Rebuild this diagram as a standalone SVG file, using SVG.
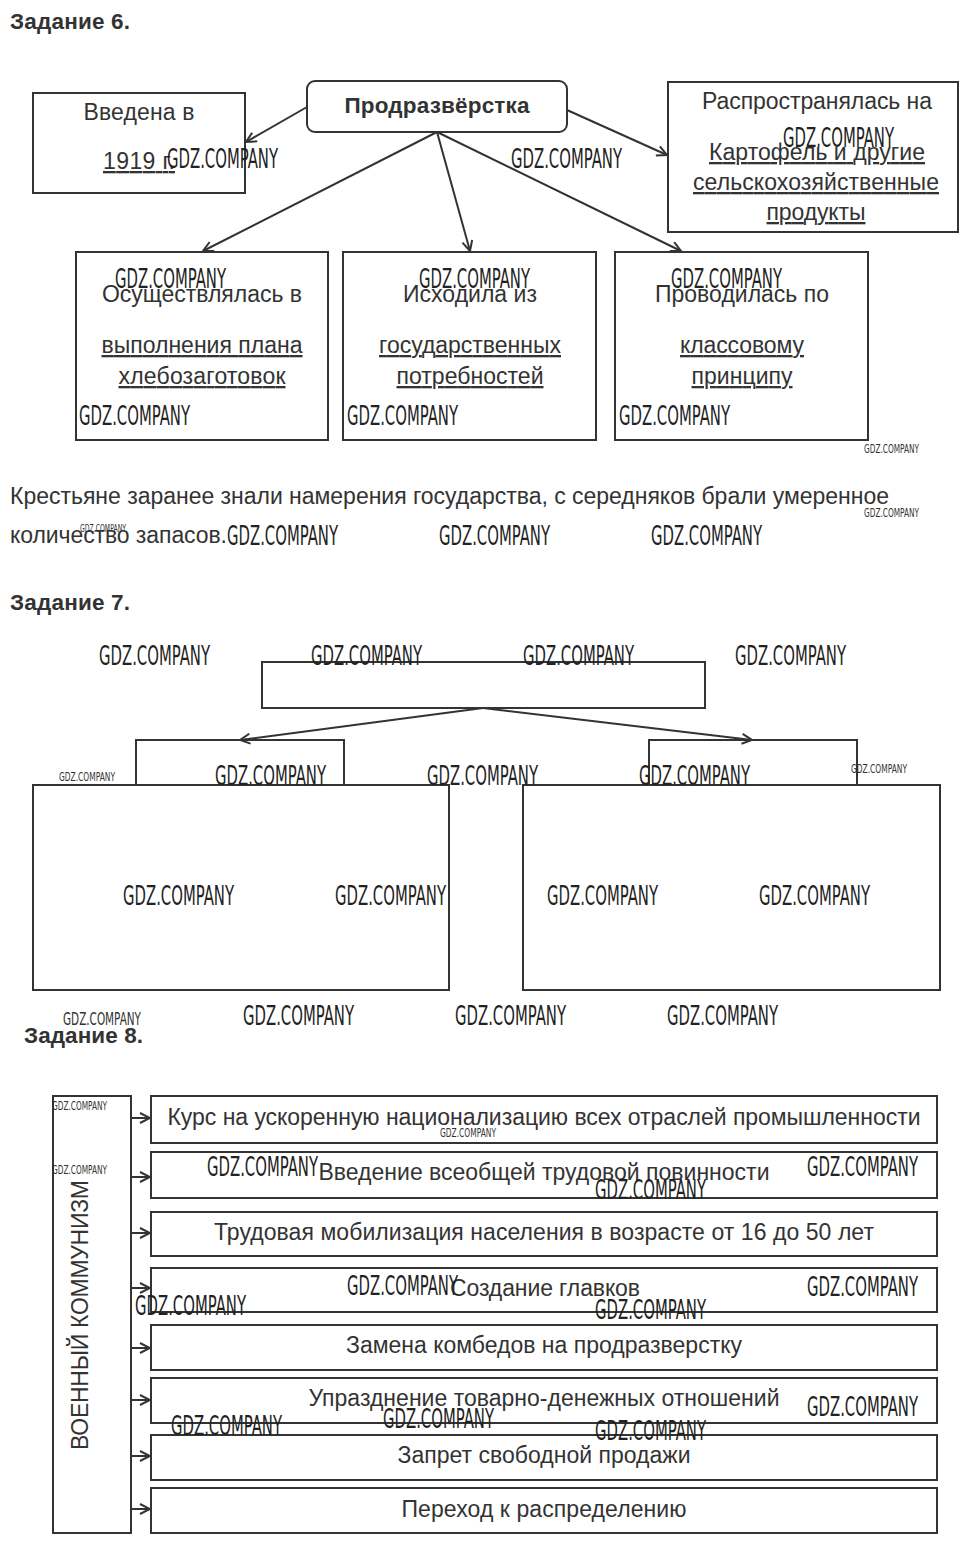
<svg xmlns="http://www.w3.org/2000/svg" width="969" height="1550" viewBox="0 0 969 1550">
<style>
.bg{fill:#fff}
.box{fill:none;stroke:#333;stroke-width:2}
.ln{fill:none;stroke:#333;stroke-width:2}
.t{font-family:"Liberation Sans",Arial,sans-serif;font-size:23px;fill:#333}
.t8{font-family:"Liberation Sans",Arial,sans-serif;font-size:23px;fill:#333;text-anchor:middle}
.c{text-anchor:middle}
.h{font-family:"Liberation Sans",Arial,sans-serif;font-size:22.5px;font-weight:bold;fill:#333}
.u{text-decoration:underline}
.wm{font-family:"Liberation Sans Narrow","DejaVu Sans Condensed","Liberation Sans",sans-serif;font-size:27px;fill:#222;font-stretch:condensed}
.ws{font-family:"Liberation Sans Narrow","DejaVu Sans Condensed","Liberation Sans",sans-serif;font-size:13px;fill:#333}
</style>
<defs>
<marker id="ar" viewBox="0 0 12 12" refX="11" refY="6" markerWidth="12" markerHeight="12" markerUnits="userSpaceOnUse" orient="auto">
<path d="M1,1 L11,6 L1,11" fill="none" stroke="#333" stroke-width="2"/>
</marker>
</defs>
<rect class="bg" x="0" y="0" width="969" height="1550"/>

<g id="task6">
<text class="h" x="10" y="29" textLength="120">Задание 6.</text>
<g id="n6-center"><rect class="box" x="307" y="81" width="260" height="51" rx="8"/><text class="h c" x="437" y="113" textLength="185">Продразвёрстка</text></g>
<g id="n6-left"><rect class="box" x="33" y="93" width="212" height="100"/><text class="t c" x="139" y="120" textLength="111">Введена в</text><text class="t c u" x="139" y="169" textLength="72">1919 г.</text></g>
<g id="n6-right"><rect class="box" x="668" y="82" width="290" height="150"/><text class="t c" x="817" y="109" textLength="230">Распространялась на</text><text class="t c u" x="817" y="160" textLength="216">Картофель и другие</text><text class="t c u" x="816" y="190" textLength="246">сельскохозяйственные</text><text class="t c u" x="816" y="220" textLength="99">продукты</text></g>
<g id="n6-b1"><rect class="box" x="76" y="252" width="252" height="188"/><text class="t c" x="202" y="302" textLength="200">Осуществлялась в</text><text class="t c u" x="202" y="353" textLength="201">выполнения плана</text><text class="t c u" x="202" y="384" textLength="167">хлебозаготовок</text></g>
<g id="n6-b2"><rect class="box" x="343" y="252" width="253" height="188"/><text class="t c" x="470" y="302" textLength="134">Исходила из</text><text class="t c u" x="470" y="353" textLength="182">государственных</text><text class="t c u" x="470" y="384" textLength="147">потребностей</text></g>
<g id="n6-b3"><rect class="box" x="615" y="252" width="253" height="188"/><text class="t c" x="742" y="302" textLength="174">Проводилась по</text><text class="t c u" x="742" y="353" textLength="124">классовому</text><text class="t c u" x="742" y="384" textLength="101">принципу</text></g>
<text class="t" x="10" y="504" textLength="879">Крестьяне заранее знали намерения государства, с середняков брали умеренное</text>
<text class="t" x="10" y="543" textLength="217">количество запасов.</text>
</g>

<g id="task7">
<text class="h" x="10" y="610" textLength="120">Задание 7.</text>
<g id="n7-top"><rect class="box" x="262" y="662" width="443" height="46"/></g>
<g id="n7-l"><path class="box" d="M136,785 V740 H344 V785"/><rect class="box" x="33" y="785" width="416" height="205"/></g>
<g id="n7-r"><path class="box" d="M649,785 V740 H857 V785"/><rect class="box" x="523" y="785" width="417" height="205"/></g>
</g>

<g id="task8">
<text class="h" x="24" y="1043" textLength="119">Задание 8.</text>
<g id="n8-main"><rect class="box" x="53" y="1096" width="78" height="437"/><text class="t8" transform="translate(88,1315) rotate(-90)" textLength="270">ВОЕННЫЙ КОММУНИЗМ</text></g>
<g id="n8-1"><rect class="box" x="151" y="1096" width="786" height="47"/><text class="t8" x="544" y="1125" textLength="753">Курс на ускоренную национализацию всех отраслей промышленности</text></g>
<g id="n8-2"><rect class="box" x="151" y="1152" width="786" height="46"/><text class="t8" x="544" y="1180" textLength="451">Введение всеобщей трудовой повинности</text></g>
<g id="n8-3"><rect class="box" x="151" y="1212" width="786" height="44"/><text class="t8" x="544" y="1240" textLength="660">Трудовая мобилизация населения в возрасте от 16 до 50 лет</text></g>
<g id="n8-4"><rect class="box" x="151" y="1268" width="786" height="44"/><text class="t8" x="545" y="1296" textLength="190">Создание главков</text></g>
<g id="n8-5"><rect class="box" x="151" y="1325" width="786" height="45"/><text class="t8" x="544" y="1353" textLength="396">Замена комбедов на продразверстку</text></g>
<g id="n8-6"><rect class="box" x="151" y="1378" width="786" height="45"/><text class="t8" x="544" y="1406" textLength="471">Упразднение товарно-денежных отношений</text></g>
<g id="n8-7"><rect class="box" x="151" y="1435" width="786" height="45"/><text class="t8" x="544" y="1463" textLength="293">Запрет свободной продажи</text></g>
<g id="n8-8"><rect class="box" x="151" y="1488" width="786" height="45"/><text class="t8" x="544" y="1517" textLength="285">Переход к распределению</text></g>
</g>

<g id="connectors">
<line class="ln" x1="307" y1="107" x2="246" y2="142" marker-end="url(#ar)"/>
<line class="ln" x1="567" y1="110" x2="667" y2="155" marker-end="url(#ar)"/>
<line class="ln" x1="437" y1="132" x2="203" y2="251" marker-end="url(#ar)"/>
<line class="ln" x1="437" y1="132" x2="470" y2="251" marker-end="url(#ar)"/>
<line class="ln" x1="437" y1="132" x2="681" y2="251" marker-end="url(#ar)"/>
<line class="ln" x1="483" y1="708" x2="240" y2="740" marker-end="url(#ar)"/>
<line class="ln" x1="483" y1="708" x2="752" y2="740" marker-end="url(#ar)"/>
<line class="ln" x1="131" y1="1118" x2="150" y2="1118" marker-end="url(#ar)"/>
<line class="ln" x1="131" y1="1177" x2="150" y2="1177" marker-end="url(#ar)"/>
<line class="ln" x1="131" y1="1233" x2="150" y2="1233" marker-end="url(#ar)"/>
<line class="ln" x1="131" y1="1288" x2="150" y2="1288" marker-end="url(#ar)"/>
<line class="ln" x1="131" y1="1348" x2="150" y2="1348" marker-end="url(#ar)"/>
<line class="ln" x1="131" y1="1400" x2="150" y2="1400" marker-end="url(#ar)"/>
<line class="ln" x1="131" y1="1456" x2="150" y2="1456" marker-end="url(#ar)"/>
<line class="ln" x1="131" y1="1509" x2="150" y2="1509" marker-end="url(#ar)"/>
</g>

<g id="watermarks">
<text class="wm" x="167" y="168" textLength="111" lengthAdjust="spacingAndGlyphs">GDZ.COMPANY</text>
<text class="wm" x="511" y="168" textLength="111" lengthAdjust="spacingAndGlyphs">GDZ.COMPANY</text>
<text class="wm" x="783" y="147" textLength="111" lengthAdjust="spacingAndGlyphs">GDZ.COMPANY</text>
<text class="wm" x="115" y="288" textLength="111" lengthAdjust="spacingAndGlyphs">GDZ.COMPANY</text>
<text class="wm" x="419" y="288" textLength="111" lengthAdjust="spacingAndGlyphs">GDZ.COMPANY</text>
<text class="wm" x="671" y="288" textLength="111" lengthAdjust="spacingAndGlyphs">GDZ.COMPANY</text>
<text class="wm" x="79" y="425" textLength="111" lengthAdjust="spacingAndGlyphs">GDZ.COMPANY</text>
<text class="wm" x="347" y="425" textLength="111" lengthAdjust="spacingAndGlyphs">GDZ.COMPANY</text>
<text class="wm" x="619" y="425" textLength="111" lengthAdjust="spacingAndGlyphs">GDZ.COMPANY</text>
<text class="ws" x="864" y="453" textLength="55" lengthAdjust="spacingAndGlyphs">GDZ.COMPANY</text>
<text class="ws" x="864" y="517" textLength="55" lengthAdjust="spacingAndGlyphs">GDZ.COMPANY</text>
<text class="ws" x="80" y="532" textLength="46" lengthAdjust="spacingAndGlyphs" style="font-size:11px">GDZ.COMPANY</text>
<text class="wm" x="227" y="545" textLength="111" lengthAdjust="spacingAndGlyphs">GDZ.COMPANY</text>
<text class="wm" x="439" y="545" textLength="111" lengthAdjust="spacingAndGlyphs">GDZ.COMPANY</text>
<text class="wm" x="651" y="545" textLength="111" lengthAdjust="spacingAndGlyphs">GDZ.COMPANY</text>
<text class="wm" x="99" y="665" textLength="111" lengthAdjust="spacingAndGlyphs">GDZ.COMPANY</text>
<text class="wm" x="311" y="665" textLength="111" lengthAdjust="spacingAndGlyphs">GDZ.COMPANY</text>
<text class="wm" x="523" y="665" textLength="111" lengthAdjust="spacingAndGlyphs">GDZ.COMPANY</text>
<text class="wm" x="735" y="665" textLength="111" lengthAdjust="spacingAndGlyphs">GDZ.COMPANY</text>
<text class="ws" x="59" y="781" textLength="56" lengthAdjust="spacingAndGlyphs">GDZ.COMPANY</text>
<text class="wm" x="215" y="785" textLength="111" lengthAdjust="spacingAndGlyphs">GDZ.COMPANY</text>
<text class="wm" x="427" y="785" textLength="111" lengthAdjust="spacingAndGlyphs">GDZ.COMPANY</text>
<text class="wm" x="639" y="785" textLength="111" lengthAdjust="spacingAndGlyphs">GDZ.COMPANY</text>
<text class="ws" x="851" y="773" textLength="56" lengthAdjust="spacingAndGlyphs">GDZ.COMPANY</text>
<text class="wm" x="123" y="905" textLength="111" lengthAdjust="spacingAndGlyphs">GDZ.COMPANY</text>
<text class="wm" x="335" y="905" textLength="111" lengthAdjust="spacingAndGlyphs">GDZ.COMPANY</text>
<text class="wm" x="547" y="905" textLength="111" lengthAdjust="spacingAndGlyphs">GDZ.COMPANY</text>
<text class="wm" x="759" y="905" textLength="111" lengthAdjust="spacingAndGlyphs">GDZ.COMPANY</text>
<text class="ws" x="63" y="1025" textLength="78" lengthAdjust="spacingAndGlyphs" style="font-size:17px">GDZ.COMPANY</text>
<text class="wm" x="243" y="1025" textLength="111" lengthAdjust="spacingAndGlyphs">GDZ.COMPANY</text>
<text class="wm" x="455" y="1025" textLength="111" lengthAdjust="spacingAndGlyphs">GDZ.COMPANY</text>
<text class="wm" x="667" y="1025" textLength="111" lengthAdjust="spacingAndGlyphs">GDZ.COMPANY</text>
<text class="ws" x="52" y="1110" textLength="55" lengthAdjust="spacingAndGlyphs">GDZ.COMPANY</text>
<text class="ws" x="52" y="1174" textLength="55" lengthAdjust="spacingAndGlyphs">GDZ.COMPANY</text>
<text class="ws" x="440" y="1137" textLength="56" lengthAdjust="spacingAndGlyphs">GDZ.COMPANY</text>
<text class="wm" x="207" y="1176" textLength="111" lengthAdjust="spacingAndGlyphs">GDZ.COMPANY</text>
<text class="wm" x="807" y="1176" textLength="111" lengthAdjust="spacingAndGlyphs">GDZ.COMPANY</text>
<text class="wm" x="595" y="1199" textLength="111" lengthAdjust="spacingAndGlyphs">GDZ.COMPANY</text>
<text class="wm" x="347" y="1295" textLength="111" lengthAdjust="spacingAndGlyphs">GDZ.COMPANY</text>
<text class="wm" x="135" y="1315" textLength="111" lengthAdjust="spacingAndGlyphs">GDZ.COMPANY</text>
<text class="wm" x="807" y="1296" textLength="111" lengthAdjust="spacingAndGlyphs">GDZ.COMPANY</text>
<text class="wm" x="595" y="1319" textLength="111" lengthAdjust="spacingAndGlyphs">GDZ.COMPANY</text>
<text class="wm" x="807" y="1416" textLength="111" lengthAdjust="spacingAndGlyphs">GDZ.COMPANY</text>
<text class="wm" x="171" y="1435" textLength="111" lengthAdjust="spacingAndGlyphs">GDZ.COMPANY</text>
<text class="wm" x="383" y="1428" textLength="111" lengthAdjust="spacingAndGlyphs">GDZ.COMPANY</text>
<text class="wm" x="595" y="1440" textLength="111" lengthAdjust="spacingAndGlyphs">GDZ.COMPANY</text>
</g>
</svg>
